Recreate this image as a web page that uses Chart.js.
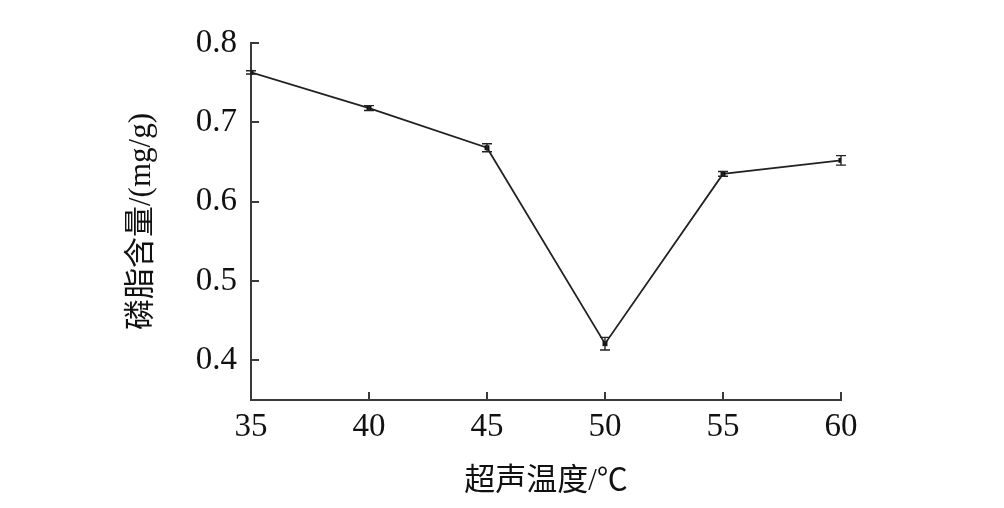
<!DOCTYPE html>
<html><head><meta charset="utf-8">
<script src="https://cdn.jsdelivr.net/npm/chart.js@4/dist/chart.umd.min.js"></script>
<style>html,body{margin:0;padding:0;background:#fff}#w{width:1004px;height:508px}</style>
</head><body><div id="w"><canvas id="c" width="1004" height="508"></canvas></div>
<script>
const temperatures = [35, 40, 45, 50, 55, 60];
const phospholipid = [0.763, 0.718, 0.668, 0.421, 0.635, 0.652];
const errors = [0.002, 0.003, 0.005, 0.008, 0.003, 0.006];
const yTicks = [0.4, 0.5, 0.6, 0.7, 0.8];
const xTicks = [35, 40, 45, 50, 55, 60];
const xTitle = '超声温度/℃';
const yTitle = '磷脂含量/(mg/g)';

const numFont = {family: '"Liberation Serif","DejaVu Serif",serif', size: 33};
const cjkFont = {family: '"Liberation Serif","Noto Sans CJK SC",serif', size: 31};
const axisColor = '#3a3a3a';

const innerTicks = {
  id: 'innerTicks',
  afterDatasetsDraw(chart) {
    const ctx = chart.ctx, x = chart.scales.x, y = chart.scales.y;
    const a = chart.chartArea;
    ctx.save();
    ctx.strokeStyle = axisColor; ctx.lineWidth = 2;
    ctx.beginPath();
    xTicks.forEach(v => { const px = Math.round(x.getPixelForValue(v)); ctx.moveTo(px, a.bottom); ctx.lineTo(px, a.bottom - 8); });
    yTicks.forEach(v => { const py = Math.round(y.getPixelForValue(v)); ctx.moveTo(a.left, py); ctx.lineTo(a.left + 8, py); });
    ctx.stroke();
    ctx.strokeStyle = '#222'; ctx.lineWidth = 1.4;
    ctx.beginPath();
    temperatures.forEach((t, i) => {
      const px = x.getPixelForValue(t);
      const hi = y.getPixelForValue(phospholipid[i] + errors[i]);
      const lo = y.getPixelForValue(phospholipid[i] - errors[i]);
      ctx.moveTo(px, hi); ctx.lineTo(px, lo);
      ctx.moveTo(px - 5, hi); ctx.lineTo(px + 5, hi);
      ctx.moveTo(px - 5, lo); ctx.lineTo(px + 5, lo);
    });
    ctx.stroke();
    ctx.restore();
  }
};

new Chart(document.getElementById('c'), {
  type: 'scatter',
  data: {
    datasets: [{
      data: temperatures.map((t, i) => ({x: t, y: phospholipid[i]})),
      showLine: true,
      borderColor: '#222',
      borderWidth: 1.8,
      pointStyle: 'rect',
      pointRadius: 3.5,
      pointBackgroundColor: '#111',
      pointBorderColor: '#111',
      pointBorderWidth: 0
    }]
  },
  options: {
    responsive: false,
    animation: false,
    layout: {padding: {left: 0, right: 163, top: 43, bottom: 0}},
    plugins: {legend: {display: false}, tooltip: {enabled: false}},
    scales: {
      x: {
        type: 'linear', min: 35, max: 60,
        afterBuildTicks: s => { s.ticks = xTicks.map(v => ({value: v})); },
        afterFit: s => { s.height = 108; s.paddingLeft = 0; s.paddingRight = 0; },
        grid: {display: false, drawTicks: false},
        border: {display: true, color: axisColor, width: 2},
        ticks: {font: numFont, color: '#111', padding: 8, maxRotation: 0, autoSkip: false},
        title: {display: true, text: xTitle, font: cjkFont, color: '#111', padding: {top: 0, bottom: 8}}
      },
      y: {
        min: 0.35, max: 0.8,
        afterBuildTicks: s => { s.ticks = yTicks.map(v => ({value: v})); },
        afterFit: s => { s.width = 251; s.paddingTop = 0; s.paddingBottom = 0; },
        grid: {display: false, drawTicks: false},
        border: {display: true, color: axisColor, width: 2},
        ticks: {font: numFont, color: '#111', padding: 14, callback: v => Number(v).toFixed(1)},
        title: {display: true, text: yTitle, font: cjkFont, color: '#111', padding: {top: 123, bottom: 0}}
      }
    }
  },
  plugins: [innerTicks]
});
</script>
</body></html>
